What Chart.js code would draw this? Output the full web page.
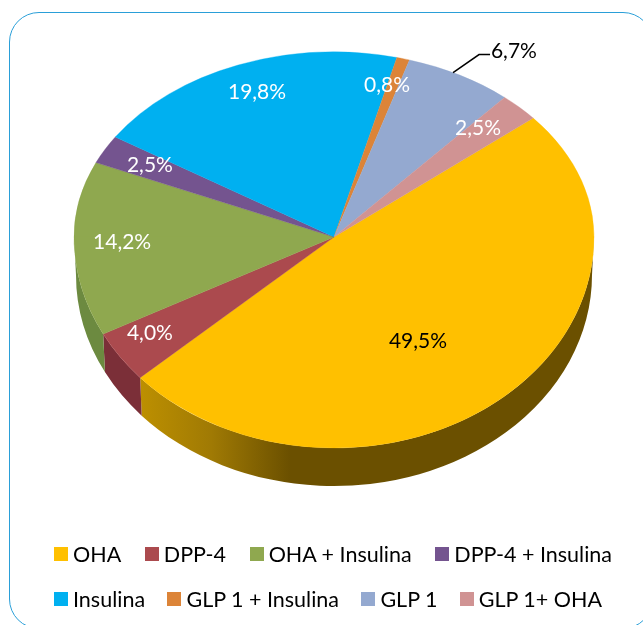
<!DOCTYPE html>
<html>
<head>
<meta charset="utf-8">
<title>Pie</title>
<script src="https://cdn.jsdelivr.net/npm/chart.js@4"></script>
<style>
html, body { margin: 0; padding: 0; background: #fff; overflow: hidden; }
#wrap { position: relative; width: 643px; height: 625px; overflow: hidden; }
#frame {
    position: absolute; left: 9px; top: 12px; width: 642px; height: 615px;
    border: 1.5px solid #2a9fd8; border-radius: 30px; pointer-events: none;
}
canvas { position: absolute; left: 0; top: 0; }
#legend { position: absolute; left: 54px; top: 0; font: 21.5px Lato; color: #000; }
.row { position: absolute; left: 0; display: flex; justify-content: space-between; height: 26px; align-items: center; white-space: nowrap; }
.row.one { top: 541px; width: 558px; }
.row.two { top: 586px; width: 548px; }
.item { display: flex; align-items: center; }
.box { width: 14px; height: 14px; margin-right: 5px; }
</style>
</head>
<body>
<div id="wrap">
    <canvas id="chart" width="643" height="625"></canvas>
    <div id="legend"></div>
    <div id="frame"></div>
</div>
<script>
// Chart data
const categories = ['OHA', 'DPP-4', 'OHA + Insulina', 'DPP-4 + Insulina', 'Insulina', 'GLP 1 + Insulina', 'GLP 1', 'GLP 1+ OHA'];
const shares = [49.5, 4.0, 14.2, 2.5, 19.8, 0.8, 6.7, 2.5];
const sliceColors = ['#FFC000', '#AB4A4E', '#8FA84F', '#74548F', '#00B0F0', '#DC8438', '#94A9D0', '#D09393'];
const sideColors = ['#6B5000', '#7B2F38', '#6C8A40', '#553D6C', '#0084B4', '#A5632A', '#6F7F9C', '#9C6E6E'];

// Where the tilted pie sits on the page
const PIE = { cx: 334, cy: 237, rx: 260, ryTop: 185, ryBottom: 211, depth: 38, rxSide: 258 };

// Label positions as fractions of the pie radius, from the apex
const labelPlaces = [[0.323, 0.493], [-0.708, 0.455], [-0.815, 0.024], [-0.708, -0.389], [-0.296, -0.784], [0.204, -0.822], [0.692, -1.005], [0.554, -0.589]];
const labelColors = ['#000', '#fff', '#fff', '#fff', '#fff', '#fff', '#000', '#fff'];

const sideFill = (ctx, index) => {
    if (index !== 0) return sideColors[index];
    // the big slice is lit from the left
    const grad = ctx.createLinearGradient(132, 0, 290, 0);
    grad.addColorStop(0, '#C09200');
    grad.addColorStop(0.5, '#A07A04');
    grad.addColorStop(1, '#6B5000');
    return grad;
};

// Draws the depth and the flattened top, then the labels
const pie3d = {
    id: 'pie3d',
    beforeDatasetsDraw(chart) {
        const ctx = chart.ctx;
        const arcs = chart.getDatasetMeta(0).data;

        // side wall, front half only
        arcs.forEach((arc, i) => {
            const a1 = Math.max(arc.startAngle, 0);
            const a2 = Math.min(arc.endAngle, Math.PI);
            if (a2 <= a1) return;
            ctx.save();
            ctx.beginPath();
            ctx.ellipse(PIE.cx, PIE.cy, PIE.rx, PIE.ryBottom, 0, a1, a2);
            ctx.ellipse(PIE.cx, PIE.cy + PIE.depth, PIE.rxSide, PIE.ryBottom, 0, a2, a1, true);
            ctx.closePath();
            ctx.fillStyle = sideFill(ctx, i);
            ctx.fill();
            ctx.restore();
        });

        // top face, upper and lower half have different squash
        const { x, y, outerRadius } = arcs[0];
        const halves = [
            { top: 0, height: PIE.cy + 0.5, ry: PIE.ryTop },
            { top: PIE.cy - 0.5, height: chart.height, ry: PIE.ryBottom }
        ];
        halves.forEach(half => {
            ctx.save();
            ctx.beginPath();
            ctx.rect(0, half.top, chart.width, half.height);
            ctx.clip();
            ctx.translate(PIE.cx, PIE.cy);
            ctx.scale(PIE.rx / outerRadius, half.ry / outerRadius);
            ctx.translate(-x, -y);
            arcs.forEach(arc => arc.draw(ctx));
            ctx.restore();
        });
        return false;
    },
    afterDraw(chart) {
        const ctx = chart.ctx;
        const arcs = chart.getDatasetMeta(0).data;
        ctx.save();
        ctx.font = '21px Lato';
        ctx.textAlign = 'center';
        ctx.textBaseline = 'middle';
        shares.forEach((v, i) => {
            const [fx, fy] = labelPlaces[i];
            const px = PIE.cx + fx * PIE.rx;
            const py = PIE.cy + fy * (fy < 0 ? PIE.ryTop : PIE.ryBottom);
            ctx.fillStyle = labelColors[i];
            ctx.fillText(v.toFixed(1).replace('.', ',') + '%', px, py);
        });

        // leader line for GLP 1, starts on the rim of the slice
        const arc = arcs[6];
        const at = arc.startAngle + (arc.endAngle - arc.startAngle) * 0.43;
        const sx = PIE.cx + PIE.rx * Math.cos(at);
        const sy = PIE.cy + PIE.ryTop * Math.sin(at);
        ctx.strokeStyle = '#000';
        ctx.lineWidth = 1.5;
        ctx.beginPath();
        ctx.moveTo(sx, sy);
        ctx.lineTo(sx + 26, sy - 18);
        ctx.lineTo(sx + 37, sy - 18);
        ctx.stroke();
        ctx.restore();
    }
};

// 凡例はHTMLで作る
const buildLegend = () => {
    const legend = document.getElementById('legend');
    [['one', 0, 4], ['two', 4, 8]].forEach(([name, from, to]) => {
        const row = document.createElement('div');
        row.className = 'row ' + name;
        categories.slice(from, to).forEach((label, i) => {
            const item = document.createElement('div');
            item.className = 'item';
            item.innerHTML = `<span class="box" style="background:${sliceColors[from + i]}"></span><span>${label}</span>`;
            row.appendChild(item);
        });
        legend.appendChild(row);
    });
};

new Chart(document.getElementById('chart').getContext('2d'), {
    type: 'pie',
    data: {
        labels: categories,
        datasets: [{
            data: shares,
            backgroundColor: sliceColors,
            borderColor: sliceColors,
            borderWidth: 0.5
        }]
    },
    options: {
        responsive: false,
        animation: false,
        rotation: 50,
        plugins: {
            tooltip: { enabled: false },
            legend: { display: false }
        }
    },
    plugins: [pie3d]
});
buildLegend();
</script>
</body>
</html>
